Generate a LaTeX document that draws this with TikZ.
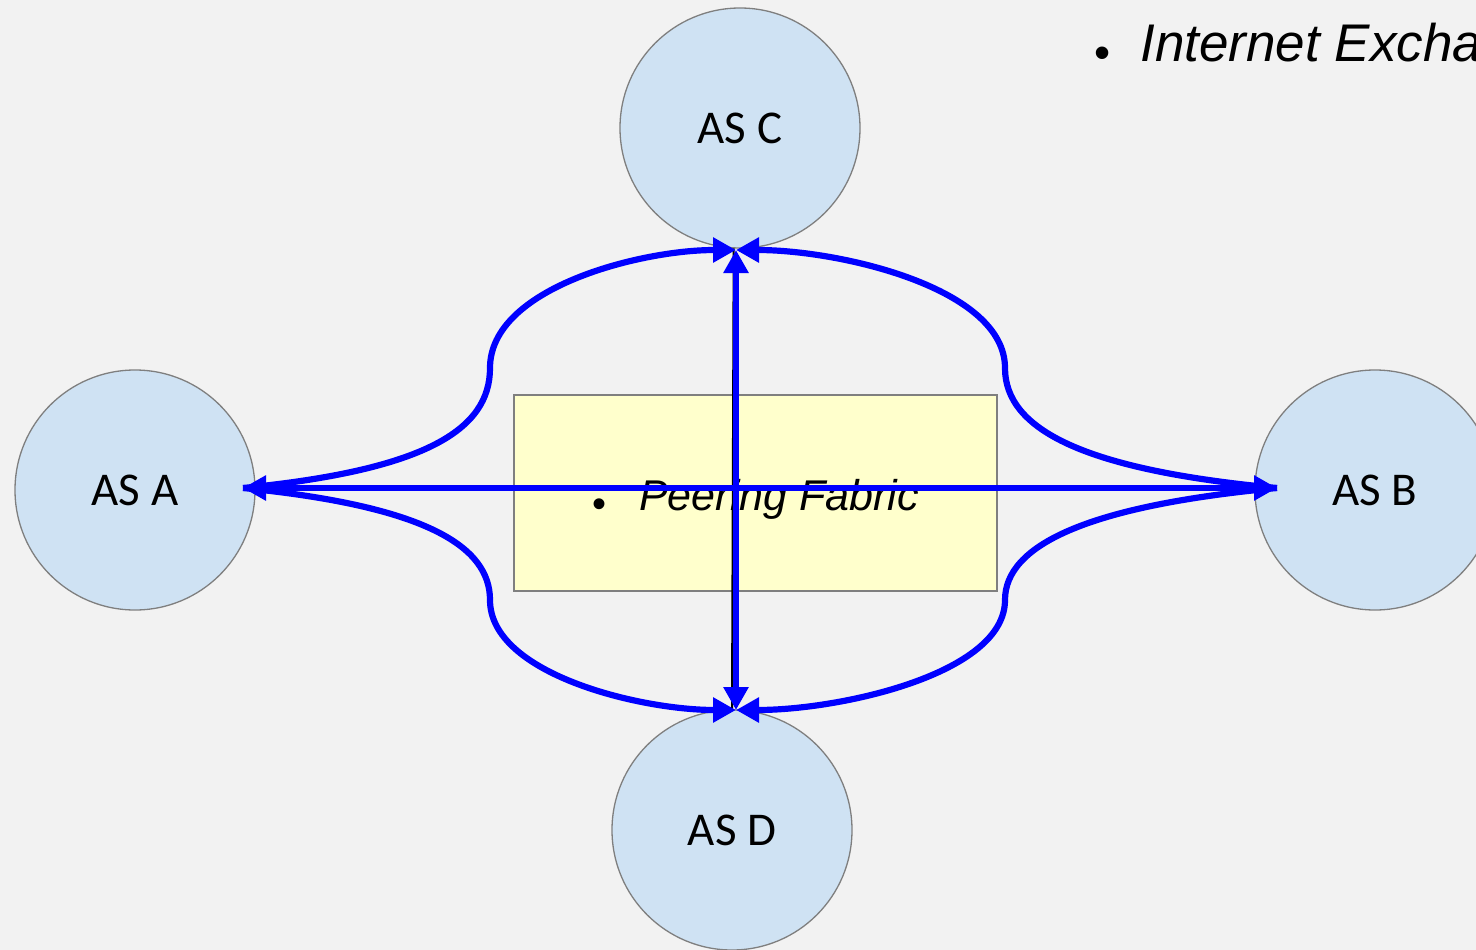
\documentclass[tikz,border=0pt]{standalone}
\usepackage{fontspec}
\setmainfont{Carlito}
\newfontfamily\arialf{Liberation Sans}
\usetikzlibrary{arrows.meta}
\definecolor{bgc}{HTML}{F2F2F2}
\definecolor{circfill}{HTML}{CFE2F3}
\definecolor{edgec}{HTML}{7F7F7F}
\definecolor{fabfill}{HTML}{FFFFCC}
\definecolor{linkblue}{HTML}{0000FF}
\begin{document}
\begin{tikzpicture}[x=1pt,y=-1pt,
  asnode/.style={circle,draw=edgec,line width=1.3pt,fill=circfill,minimum size=240pt,inner sep=0pt,font=\fontsize{47}{47}\selectfont},
  fabric/.style={draw=edgec,line width=1.3pt,fill=fabfill,minimum width=483pt,minimum height=196pt,inner sep=0pt},
  bl/.style={draw=linkblue,line width=6.2pt},
  tipb/.style={-{Triangle[length=23pt,width=24pt]}},
  thinblack/.style={draw=black,line width=2pt}]
\useasboundingbox (0,0) rectangle (1476,950);
\clip (0,0) rectangle (1476,950);
\fill[bgc] (0,0) rectangle (1476,950);
\node[asnode] (C) at (740,128) {AS C};
\node[asnode] (A) at (135,490) {AS A};
\node[asnode] (B) at (1375,490) {AS B};
\node[asnode] (D) at (732,830) {AS D};
\node[fabric] (F) at (755.5,493) {};
\node[anchor=base west,font=\arialf\itshape\fontsize{43}{43}\selectfont,inner sep=0pt] (FT) at (592,510) {{\fontsize{40}{40}\selectfont\upshape\raisebox{-7pt}{•}}\hspace{33pt}Peering Fabric};
\node[anchor=base west,font=\arialf\itshape\fontsize{53}{53}\selectfont,inner sep=0pt] (IX) at (1094,62) {{\fontsize{46}{46}\selectfont\upshape\raisebox{-7pt}{•}}\hspace{30pt}Internet Exchange};
\coordinate (pA) at (243,488);
\coordinate (pB) at (1277,488);
\coordinate (pC) at (736,250);
\coordinate (pD) at (736,710);
\draw[thinblack] (C.267) -- (D.north);
\draw[thinblack] (A.east) -- (B.west);
\draw[bl,tipb] (pA) .. controls (425,470) and (490,430) .. (490,368) .. controls (490,288) and (640,250) .. (pC);
\draw[bl,tipb] (pB) .. controls (1085,470) and (1005,430) .. (1005,368) .. controls (1005,288) and (840,250) .. (pC);
\draw[bl,tipb] (pA) .. controls (425,506) and (490,546) .. (490,600) .. controls (490,674) and (640,710) .. (pD);
\draw[bl,tipb] (pB) .. controls (1085,506) and (1005,546) .. (1005,600) .. controls (1005,674) and (840,710) .. (pD);
\draw[bl,{Triangle[length=23pt,width=24pt]}-{Triangle[length=23pt,width=24pt]}] (pC) -- (pD);
\draw[bl,{Triangle[length=23pt,width=24pt]}-{Triangle[length=23pt,width=24pt]}] (pA) -- (pB);
\end{tikzpicture}
\end{document}
